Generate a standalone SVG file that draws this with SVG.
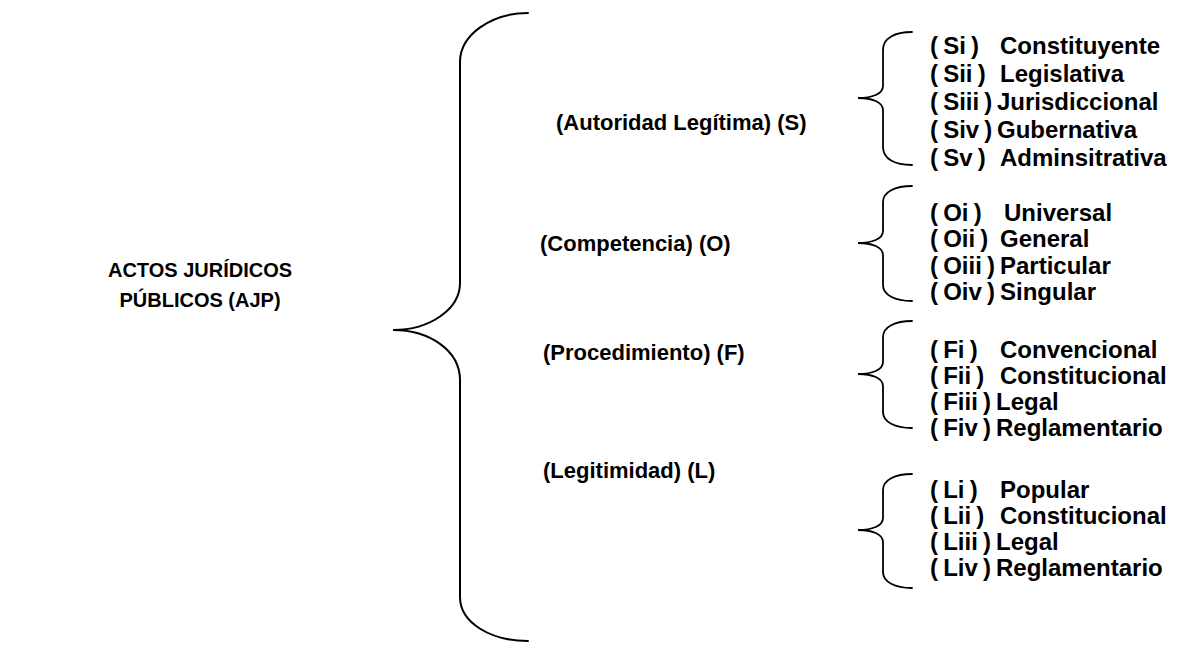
<svg xmlns="http://www.w3.org/2000/svg" width="1177" height="646" viewBox="0 0 1177 646">
  <style>
    text { font-family: "Liberation Sans", Arial, sans-serif; font-weight: bold; font-size: 22px; fill: #000; white-space: pre; }
    .root { font-size: 20px; }
    .item { font-size: 24px; }
    .code { word-spacing: -1.5px; }
    .brace { fill: none; stroke: #000; stroke-width: 2; stroke-linecap: round; }
    .small { stroke-width: 1.8; }
  </style>
  <rect width="1177" height="646" fill="#fff"/>

  <g id="root">
    <text class="root" x="200" y="277" text-anchor="middle">ACTOS JURÍDICOS</text>
    <text class="root" x="200" y="307" text-anchor="middle">PÚBLICOS (AJP)</text>
  </g>

  <g id="connectors">
    <!-- main brace -->
    <path class="brace" d="M528,13 C491,13 460,35 460,62 L460,283 C460,309 430,330 393,330 C430,330 460,351 460,380 L460,597 C460,623 491,641 528,641"/>
    <!-- S brace -->
    <path class="brace small" d="M912,32 C895,32 883,38 883,50 L883,86 C883,94 872,98 858,98 C872,98 883,102 883,110 L883,147 C883,159 895,165 912,165"/>
    <!-- O brace -->
    <path class="brace small" d="M912,186 C895,186 883,192 883,202 L883,231 C883,239 872,243 858,243 C872,243 883,247 883,255 L883,285 C883,295 895,301 912,301"/>
    <!-- F brace -->
    <path class="brace small" d="M912,321 C895,321 883,327 883,337 L883,362 C883,370 872,374 858,374 C872,374 883,378 883,386 L883,412 C883,422 895,428 912,428"/>
    <!-- L brace -->
    <path class="brace small" d="M912,474 C895,474 883,480 883,490 L883,518 C883,526 872,530 858,530 C872,530 883,534 883,542 L883,572 C883,582 895,588 912,588"/>
  </g>

  <g id="autoridad">
    <text x="556" y="130">(Autoridad Legítima) (S)</text>
  </g>
  <g id="autoridad-items">
    <text class="item" y="54"><tspan class="code" x="930">( Si )</tspan><tspan x="1000">Constituyente</tspan></text>
    <text class="item" y="82"><tspan class="code" x="930">( Sii )</tspan><tspan x="1000">Legislativa</tspan></text>
    <text class="item" y="110"><tspan class="code" x="930">( Siii )</tspan><tspan x="997">Jurisdiccional</tspan></text>
    <text class="item" y="138"><tspan class="code" x="930">( Siv )</tspan><tspan x="997">Gubernativa</tspan></text>
    <text class="item" y="166"><tspan class="code" x="930">( Sv )</tspan><tspan x="1000">Adminsitrativa</tspan></text>
  </g>

  <g id="competencia">
    <text x="540" y="251">(Competencia) (O)</text>
  </g>
  <g id="competencia-items">
    <text class="item" y="221"><tspan class="code" x="930">( Oi )</tspan><tspan x="1004">Universal</tspan></text>
    <text class="item" y="247"><tspan class="code" x="930">( Oii )</tspan><tspan x="1000">General</tspan></text>
    <text class="item" y="274"><tspan class="code" x="930">( Oiii )</tspan><tspan x="1000">Particular</tspan></text>
    <text class="item" y="300"><tspan class="code" x="930">( Oiv )</tspan><tspan x="1000">Singular</tspan></text>
  </g>

  <g id="procedimiento">
    <text x="543" y="360">(Procedimiento) (F)</text>
  </g>
  <g id="procedimiento-items">
    <text class="item" y="358"><tspan class="code" x="930">( Fi )</tspan><tspan x="1000">Convencional</tspan></text>
    <text class="item" y="384"><tspan class="code" x="930">( Fii )</tspan><tspan x="1000">Constitucional</tspan></text>
    <text class="item" y="410"><tspan class="code" x="930">( Fiii )</tspan><tspan x="996">Legal</tspan></text>
    <text class="item" y="436"><tspan class="code" x="930">( Fiv )</tspan><tspan x="996">Reglamentario</tspan></text>
  </g>

  <g id="legitimidad">
    <text x="543" y="478">(Legitimidad) (L)</text>
  </g>
  <g id="legitimidad-items">
    <text class="item" y="498"><tspan class="code" x="930">( Li )</tspan><tspan x="1000">Popular</tspan></text>
    <text class="item" y="524"><tspan class="code" x="930">( Lii )</tspan><tspan x="1000">Constitucional</tspan></text>
    <text class="item" y="550"><tspan class="code" x="930">( Liii )</tspan><tspan x="996">Legal</tspan></text>
    <text class="item" y="576"><tspan class="code" x="930">( Liv )</tspan><tspan x="996">Reglamentario</tspan></text>
  </g>
</svg>
